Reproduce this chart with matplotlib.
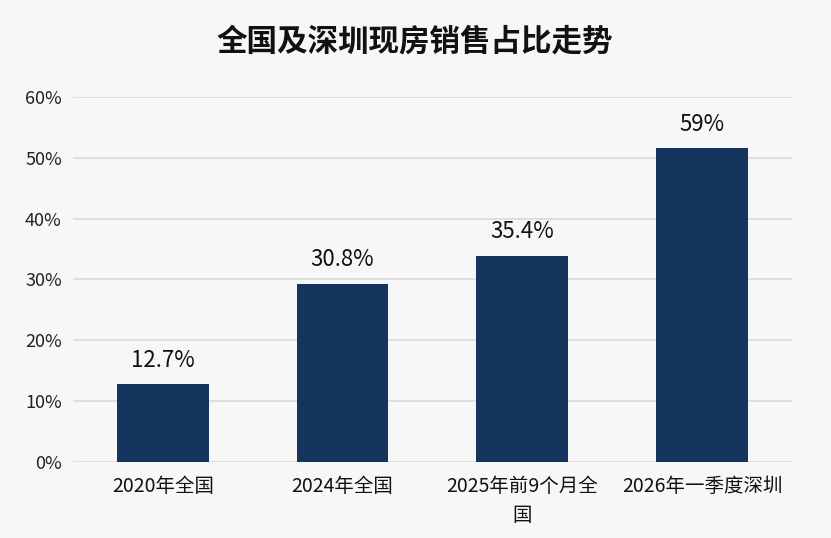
import matplotlib

matplotlib.use("Agg")
import matplotlib.pyplot as plt  # noqa: E402
from matplotlib.ticker import PercentFormatter  # noqa: E402

plt.rcParams["font.family"] = ["Noto Sans CJK SC", "DejaVu Sans"]

_BG = "#f7f7f7"
_BAR = "#15355f"
_GRID = "#d9d9d9"
_TEXT = "#111111"

categories = ["2020年全国", "2024年全国", "2025年前9个月全\n国", "2026年一季度深圳"]
# bar heights as drawn in the picture (they do not quite match the printed labels)
bar_heights = [12.8, 29.3, 33.9, 51.6]
value_labels = ["12.7%", "30.8%", "35.4%", "59%"]
y_ticks = [0, 10, 20, 30, 40, 50, 60]

fig = plt.figure(figsize=(8.31, 5.38), dpi=100, facecolor=_BG)
ax = fig.add_axes([0.0878, 0.1413, 0.8652, 0.6784])
ax.set_facecolor(_BG)

x = list(range(len(categories)))
bars = ax.bar(x, bar_heights, width=0.51, color=_BAR, zorder=3)
for rect, label in zip(bars, value_labels):
    ax.annotate(label, (rect.get_x() + rect.get_width() / 2, rect.get_height()),
                xytext=(0, 9), textcoords="offset points", ha="center", va="bottom",
                fontsize=16, color=_TEXT)

ax.set_xlim(-0.5, 3.5)
ax.set_ylim(0, 60)
ax.set_yticks(y_ticks)
ax.yaxis.set_major_formatter(PercentFormatter(decimals=0))
ax.set_xticks(x)
ax.set_xticklabels(categories, fontsize=14, color=_TEXT, linespacing=1.5)
ax.tick_params(axis="y", labelsize=13, colors=_TEXT, length=0, pad=8)
ax.tick_params(axis="x", length=0, pad=10)
for lbl in ax.get_yticklabels():
    lbl.set_color("#222222")
ax.grid(axis="y", color=_GRID, linewidth=1.2, zorder=0)
for spine in ax.spines.values():
    spine.set_visible(False)

fig.suptitle("全国及深圳现房销售占比走势", x=0.4995, y=0.953, fontsize=22,
             fontweight="bold", color=_TEXT)

fig.savefig("out.png", dpi=100, facecolor=_BG)
